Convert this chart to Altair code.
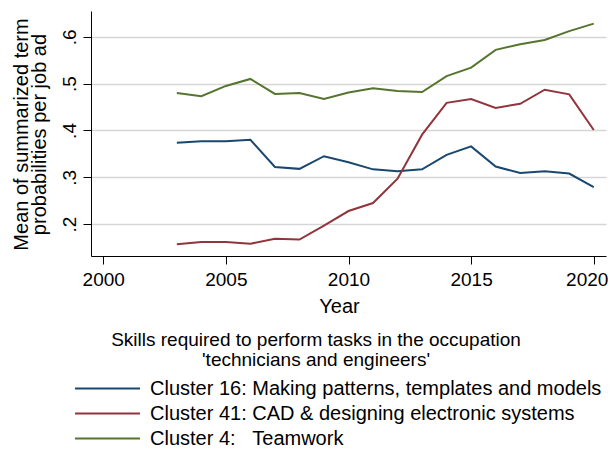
import altair as alt
import pandas as pd

years = list(range(2003, 2021))
cluster16 = [0.374, 0.377, 0.377, 0.380, 0.322, 0.318, 0.345, 0.332, 0.317,
             0.313, 0.317, 0.348, 0.366, 0.323, 0.309, 0.313, 0.308, 0.279]
cluster41 = [0.157, 0.162, 0.162, 0.158, 0.169, 0.167, 0.197, 0.228, 0.245,
             0.297, 0.391, 0.459, 0.467, 0.448, 0.457, 0.487, 0.477, 0.401]
cluster4 = [0.480, 0.473, 0.495, 0.510, 0.478, 0.480, 0.467, 0.481, 0.490,
            0.484, 0.482, 0.516, 0.534, 0.572, 0.584, 0.593, 0.612, 0.628]

series_names = [
    "Cluster 16: Making patterns, templates and models",
    "Cluster 41: CAD & designing electronic systems",
    "Cluster 4:\u00a0\u00a0\u00a0Teamwork",
]
series_colors = ["#1a476f", "#90353b", "#55752f"]
x_ticks = [2000, 2005, 2010, 2015, 2020]
y_ticks = [0.2, 0.3, 0.4, 0.5, 0.6]
legend_title = ["Skills required to perform tasks in the occupation",
                "'technicians and engineers'"]
y_title = ["Mean of summarized term", "probabilities per job ad"]

rows = []
for name, vals in zip(series_names, [cluster16, cluster41, cluster4]):
    for yr, v in zip(years, vals):
        rows.append({"year": yr, "value": v, "series": name})
df = pd.DataFrame(rows)

FONT = "Liberation Sans"

chart = alt.Chart(df).mark_line(strokeWidth=2).encode(
    x=alt.X("year:Q",
            scale=alt.Scale(domain=[1999.5, 2020.5], nice=False, zero=False),
            axis=alt.Axis(values=x_ticks, format="d", title="Year", grid=False,
                          labelFont=FONT, labelFontSize=19, labelColor="black",
                          labelBaseline="alphabetic", labelPadding=21,
                          labelOffset={"condition": {"test": "datum.value == 2020", "value": -7},
                                       "value": 0},
                          tickSize=8, tickColor="black", domainColor="black",
                          titleFont=FONT, titleFontSize=20, titleFontWeight="normal",
                          titleColor="black", titleBaseline="alphabetic",
                          titleX=248, titleY=56, titleAlign="center")),
    y=alt.Y("value:Q",
            scale=alt.Scale(domain=[0.132, 0.655], nice=False, zero=False),
            axis=alt.Axis(values=y_ticks, labelExpr="substring(format(datum.value, '.1f'), 1)",
                          title=y_title, grid=True, gridColor="#d6d6d6", gridWidth=1.6,
                          labelFont=FONT, labelFontSize=19, labelColor="black",
                          labelAngle=270, labelAlign="center", labelBaseline="alphabetic",
                          labelPadding=8, tickSize=8, tickColor="black", domainColor="black",
                          titleFont=FONT, titleFontSize=20, titleFontWeight="normal",
                          titleColor="black", titleAngle=270, titleBaseline="alphabetic",
                          titleAlign="center", titleX=-64, titleY=123, titleLineHeight=18)),
    color=alt.Color("series:N",
                    scale=alt.Scale(domain=series_names, range=series_colors),
                    sort=series_names,
                    legend=alt.Legend(
                        title=legend_title, orient="none", legendX=-60, legendY=320,
                        direction="vertical", symbolType="stroke", symbolSize=4225,
                        symbolStrokeWidth=2, symbolOffset=43, labelOffset=9,
                        labelFont=FONT, labelFontSize=20, labelColor="black", labelLimit=700,
                        titleFont=FONT, titleFontSize=19, titleFontWeight="normal",
                        titleColor="black", titleAnchor="middle", titleAlign="center",
                        titleLimit=800, titleLineHeight=20, titlePadding=6,
                        clipHeight=25, rowPadding=0, padding=0)),
).properties(
    width=515, height=245,
    autosize=alt.AutoSizeParams(type="none"),
    padding={"left": 83, "top": 3, "right": 2, "bottom": 193},
    background="white",
).configure_view(stroke=None)

chart.save("out.html", embed_options={"renderer": "svg", "actions": False})
